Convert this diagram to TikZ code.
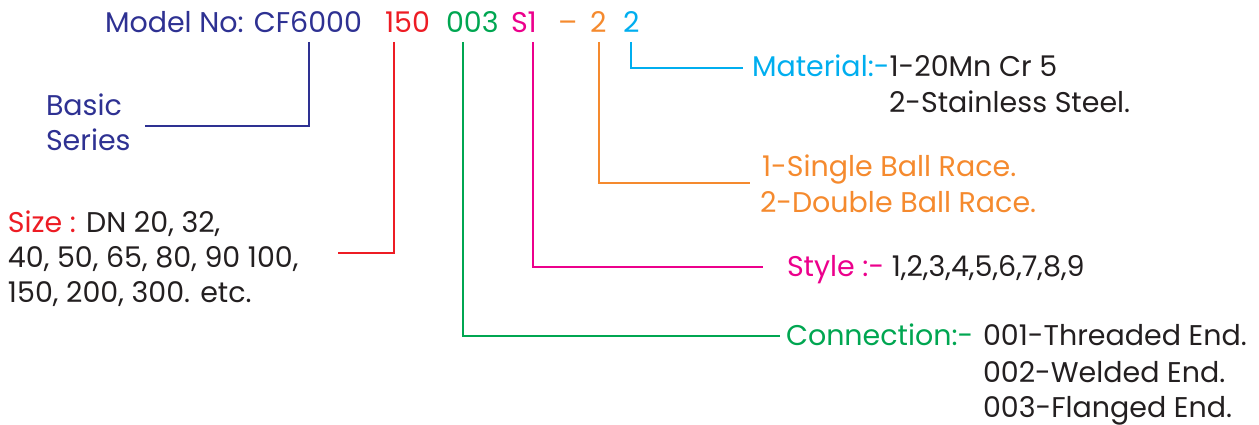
\documentclass[tikz,border=0pt]{standalone}
\usepackage{fontspec}
\setmainfont{Poppins}
\definecolor{cdblue}{HTML}{2E3192}
\definecolor{cred}{HTML}{ED1C24}
\definecolor{cgreen}{HTML}{00A651}
\definecolor{cmag}{HTML}{EC008C}
\definecolor{corange}{HTML}{F58A2E}
\definecolor{ccyan}{HTML}{00AEEF}
\definecolor{ctext}{HTML}{231F20}
\tikzset{
  txt/.style={anchor=base west, inner sep=0pt, outer sep=0pt, font=\fontsize{28.5}{34}\selectfont, text=ctext},
  lead/.style={line width=1.6pt, line cap=butt, line join=miter},
}
\begin{document}
\begin{tikzpicture}[x=1pt,y=-1pt]
\useasboundingbox (0,0) rectangle (1259,425);
% model number
\node[txt, text=cdblue] (model) at (105,33) {Model No: CF6000};
\node[txt, text=cred] (c150) at (385,33) {150};
\node[txt, text=cgreen] (c003) at (446,33) {003};
\node[txt, text=cmag] (cs1) at (511,33) {S1};
\node[txt, text=corange] (cdash) at (558,33) {–};
\node[txt, text=corange] (c2a) at (590,33) {2};
\node[txt, text=ccyan] (c2b) at (623,33) {2};
% labels
\node[txt, text=cdblue] (basic) at (46,116) {Basic};
\node[txt, text=cdblue] (series) at (46,151) {Series};
\node[txt] (size1) at (8,232) {\textcolor{cred}{Size :} DN 20, 32,};
\node[txt] (size2) at (8,267) {40, 50, 65, 80, 90 100,};
\node[txt] (size3) at (8,302) {150, 200, 300. etc.};
\node[txt] (mat1) at (752,77) {\textcolor{ccyan}{Material:-}1-20Mn Cr 5};
\node[txt] (mat2) at (889,113) {2-Stainless Steel.};
\node[txt, text=corange] (race1) at (762,177) {1-Single Ball Race.};
\node[txt, text=corange] (race2) at (760,212) {2-Double Ball Race.};
\node[txt] (style) at (787,276) {\textcolor{cmag}{Style :-} 1,2,3,4,5,6,7,8,9};
\node[txt, text=cgreen] (conn) at (786,345) {Connection:-};
\node[txt] (conn1) at (983,345) {001-Threaded End.};
\node[txt] (conn2) at (983,382) {002-Welded End.};
\node[txt] (conn3) at (983,417) {003-Flanged End.};
% leader coordinates
\coordinate (tBasic) at (309,42);
\coordinate (eBasic) at (145,126);
\coordinate (tSize) at (394,42);
\coordinate (eSize) at (338,253);
\coordinate (tConn) at (463,42);
\coordinate (tStyle) at (533,42);
\coordinate (tRace) at (599,42);
\coordinate (tMat) at (631,42);
% leaders
\draw[lead, cdblue] (tBasic) |- (eBasic);
\draw[lead, cred] (tSize) |- (eSize);
\draw[lead, cgreen] (tConn) |- ([xshift=-6pt,yshift=9pt]conn.base west);
\draw[lead, cmag] (tStyle) |- ([xshift=-24pt,yshift=9pt]style.base west);
\draw[lead, corange] (tRace) |- ([xshift=-12pt,yshift=-6pt]race1.base west);
\draw[lead, ccyan] (tMat) |- ([xshift=-9pt,yshift=9pt]mat1.base west);
\end{tikzpicture}
\end{document}
